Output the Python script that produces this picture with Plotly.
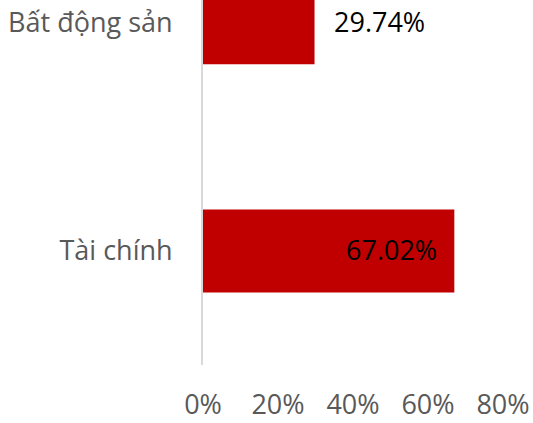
import plotly.graph_objects as go

categories = ["Bất động sản", "Tài chính"]
values = [29.74, 67.02]
label_inside = [False, True]
x_ticks = [0, 20, 40, 60, 80]
x_tick_labels = ["0%", "20%", "40%", "60%", "80%"]

fig = go.Figure()
fig.add_trace(go.Bar(
    y=categories,
    x=values,
    orientation="h",
    marker=dict(color="#C00000", line=dict(width=0)),
    width=0.364,
    hoverinfo="skip",
))

for cat, val, inside in zip(categories, values, label_inside):
    fig.add_annotation(
        x=val, y=cat, xref="x", yref="y",
        text=f"{val:.2f}%",
        showarrow=False,
        xanchor="right" if inside else "left",
        xshift=-15 if inside else 17,
        yshift=1,
        font=dict(family="Open Sans", size=27, color="#000000"),
    )

fig.update_layout(
    width=533, height=423,
    margin=dict(l=203, r=30, t=0, b=58, autoexpand=False),
    paper_bgcolor="white", plot_bgcolor="white",
    showlegend=False,
    font=dict(family="Open Sans", size=27, color="#595959"),
    xaxis=dict(
        range=[0, 80], tickmode="array", tickvals=x_ticks, ticktext=x_tick_labels,
        showgrid=False, zeroline=False, showline=False,
        ticks="", ticklabelstandoff=21, automargin=False,
        tickfont=dict(family="Open Sans", size=27, color="#595959"),
        fixedrange=True,
    ),
    yaxis=dict(
        type="category", categoryorder="array", categoryarray=categories[::-1],
        range=[-0.5, 1.1], automargin=False,
        showgrid=False, zeroline=False,
        showline=True, linecolor="#D9D9D9", linewidth=2,
        ticks="", ticklabelstandoff=23,
        tickfont=dict(family="Open Sans", size=27, color="#595959"),
        fixedrange=True,
    ),
)

fig.write_html(
    "out.html",
    config={"displayModeBar": False},
    post_script="document.body.style.margin='0';document.body.style.overflow='hidden';",
)
